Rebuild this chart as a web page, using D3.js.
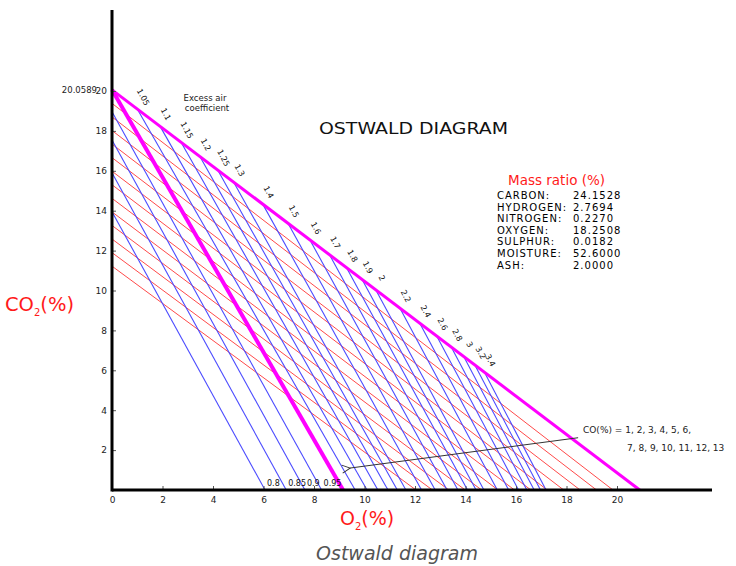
<!DOCTYPE html>
<html>
<head>
<meta charset="utf-8">
<script src="https://cdn.jsdelivr.net/npm/d3@7"></script>
<style>
  body { margin: 0; background: #fff; }
  text { font-family: "DejaVu Sans", Verdana, sans-serif; }
</style>
</head>
<body>
<div id="chart"></div>
<script>
// values
const xTicks = [0, 2, 4, 6, 8, 10, 12, 14, 16, 18, 20];
const yTicks = [2, 4, 6, 8, 10, 12, 14, 16, 18, 20];
const co2Max = 20.0589;

// complete combustion line and lambda = 1 line
const boundaryO2 = [0, 20.9];
const boundaryCO2 = [co2Max, 0];
const stoichO2 = [0, 9.15];
const stoichCO2 = [co2Max, 0];

// excess air coefficient lines below 1 (from CO2 axis to O2 axis)
const lambdaLow = ["0.8", "0.85", "0.9", "0.95"];
const lowStartCO2 = [13.95, 15.9, 17.54, 18.96];
const lowEndO2 = [6.06, 6.9, 7.64, 8.3];

// excess air coefficient lines above 1 (from boundary line to O2 axis)
const lambdaHigh = ["1.05", "1.1", "1.15", "1.2", "1.25", "1.3", "1.4", "1.5", "1.6", "1.7",
  "1.8", "1.9", "2", "2.2", "2.4", "2.6", "2.8", "3", "3.2", "3.4"];
const highStartO2 = [1.00, 1.90, 2.73, 3.48, 4.18, 4.82, 5.97, 6.97, 7.84, 8.61,
  9.29, 9.90, 10.45, 11.40, 12.19, 12.86, 13.44, 13.93, 14.37, 14.75];
const highStartCO2 = [19.10, 18.24, 17.44, 16.72, 16.05, 15.43, 14.33, 13.37, 12.53, 11.80,
  11.14, 10.56, 10.03, 9.12, 8.36, 7.72, 7.16, 6.69, 6.27, 5.90];
const highEndO2 = [9.63, 10.10, 10.53, 10.93, 11.30, 11.64, 12.26, 12.80, 13.27, 13.70,
  14.08, 14.42, 14.73, 15.26, 15.71, 16.10, 16.43, 16.72, 16.97, 17.19];

// CO lines, CO(%) = 1..13
const coLevels = [1, 2, 3, 4, 5, 6, 7, 8, 9, 10, 11, 12, 13];
const coStartCO2 = [19.38, 18.70, 18.02, 17.34, 16.66, 15.98, 15.30, 14.62, 13.94, 13.26, 12.58, 11.90, 11.22];
const coEndO2 = [19.84, 19.19, 18.54, 17.89, 17.24, 16.59, 15.94, 15.29, 14.64, 13.99, 13.34, 12.69, 12.04];

const massNames = ["CARBON:", "HYDROGEN:", "NITROGEN:", "OXYGEN:", "SULPHUR:", "MOISTURE:", "ASH:"];
const massValues = ["24.1528", "2.7694", "0.2270", "18.2508", "0.0182", "52.6000", "2.0000"];

// annotation arrow (O2, CO2)
const arrowFrom = [18.46, 2.62];
const arrowTo = [9.43, 1.10];

const width = 736, height = 566;

const x = d3.scaleLinear().domain([0, 20]).range([112, 617]);
const y = d3.scaleLinear().domain([0, 20]).range([490, 91]);

const svg = d3.select("#chart").append("svg")
  .attr("width", width)
  .attr("height", height);

svg.append("defs").append("marker")
  .attr("id", "arrow")
  .attr("viewBox", "-1 -6 10 12")
  .attr("refX", 0).attr("refY", 0)
  .attr("markerWidth", 10).attr("markerHeight", 12)
  .attr("markerUnits", "userSpaceOnUse")
  .attr("orient", "auto-start-reverse")
  .append("path")
  .attr("d", "M8,-4L0,0L8,4")
  .attr("fill", "none")
  .attr("stroke", "#333")
  .attr("stroke-width", 1);

// red CO lines
svg.append("g")
  .attr("stroke", "#ff4a4a")
  .attr("stroke-width", 1)
  .selectAll("line")
  .data(coLevels)
  .join("line")
  .attr("x1", x(0))
  .attr("y1", (d, i) => y(coStartCO2[i]))
  .attr("x2", (d, i) => x(coEndO2[i]))
  .attr("y2", y(0));

// blue excess air lines
const blue = svg.append("g")
  .attr("stroke", "#4b4bff")
  .attr("stroke-width", 1.1);

blue.selectAll("line.low")
  .data(lambdaLow)
  .join("line")
  .attr("class", "low")
  .attr("x1", x(0))
  .attr("y1", (d, i) => y(lowStartCO2[i]))
  .attr("x2", (d, i) => x(lowEndO2[i]))
  .attr("y2", y(0));

blue.selectAll("line.high")
  .data(lambdaHigh)
  .join("line")
  .attr("class", "high")
  .attr("x1", (d, i) => x(highStartO2[i]))
  .attr("y1", (d, i) => y(highStartCO2[i]))
  .attr("x2", (d, i) => x(highEndO2[i]))
  .attr("y2", y(0));

// magenta lines
const line = d3.line().x(d => x(d[0])).y(d => y(d[1]));
svg.append("path")
  .attr("d", line(boundaryO2.map((o, i) => [o, boundaryCO2[i]])))
  .attr("stroke", "#ff00ff")
  .attr("stroke-width", 3)
  .attr("fill", "none");
svg.append("path")
  .attr("d", line(stoichO2.map((o, i) => [o, stoichCO2[i]])))
  .attr("stroke", "#ff00ff")
  .attr("stroke-width", 4)
  .attr("fill", "none");

// lambda labels
svg.append("g")
  .selectAll("text")
  .data(lambdaHigh)
  .join("text")
  .attr("transform", (d, i) => `translate(${x(highStartO2[i]) + 6},${y(highStartCO2[i]) - 12}) rotate(62)`)
  .attr("text-anchor", "middle")
  .attr("dy", "0.35em")
  .attr("font-size", 8)
  .attr("fill", "#111")
  .text(d => d);

svg.append("g")
  .selectAll("text")
  .data(lambdaLow)
  .join("text")
  .attr("x", (d, i) => x(lowEndO2[i]) + 2)
  .attr("y", y(0) - 4)
  .attr("font-size", 8)
  .attr("fill", "#111")
  .text(d => d);

// axes
const xAxis = g => g
  .attr("transform", `translate(0,${y(0)})`)
  .call(d3.axisBottom(x).tickValues(xTicks).tickSizeInner(-4).tickSizeOuter(0).tickPadding(7))
  .call(g => g.select(".domain").remove())
  .call(g => g.selectAll(".tick line").attr("stroke", "#555"))
  .call(g => g.selectAll(".tick text").attr("font-size", 9).attr("fill", "#222")
    .attr("font-family", "DejaVu Sans"));

const yAxis = g => g
  .attr("transform", `translate(${x(0)},0)`)
  .call(d3.axisLeft(y).tickValues(yTicks).tickSizeInner(-4).tickSizeOuter(0).tickPadding(5))
  .call(g => g.select(".domain").remove())
  .call(g => g.selectAll(".tick line").attr("stroke", "#555"))
  .call(g => g.selectAll(".tick text").attr("font-size", 9).attr("fill", "#222")
    .attr("font-family", "DejaVu Sans"));

svg.append("g").call(xAxis);
svg.append("g").call(yAxis);

svg.append("line")
  .attr("x1", x(0)).attr("x2", 712)
  .attr("y1", y(0)).attr("y2", y(0))
  .attr("stroke", "#000").attr("stroke-width", 3);
svg.append("line")
  .attr("x1", x(0)).attr("x2", x(0))
  .attr("y1", 10).attr("y2", y(0) + 1.5)
  .attr("stroke", "#000").attr("stroke-width", 3);

svg.append("text")
  .attr("x", 97).attr("y", y(co2Max) + 3)
  .attr("text-anchor", "end")
  .attr("font-size", 8.5)
  .attr("fill", "#222")
  .text(co2Max.toFixed(4));

// annotation arrow
svg.append("line")
  .attr("x1", x(arrowFrom[0])).attr("y1", y(arrowFrom[1]))
  .attr("x2", x(arrowTo[0])).attr("y2", y(arrowTo[1]))
  .attr("stroke", "#333")
  .attr("stroke-width", 1)
  .attr("marker-end", "url(#arrow)");

svg.append("text")
  .attr("x", 583).attr("y", 433)
  .attr("font-size", 9)
  .attr("fill", "#222")
  .text("CO(%) = " + coLevels.slice(0, 6).join(", ") + ",");
svg.append("text")
  .attr("x", 627).attr("y", 451)
  .attr("font-size", 9)
  .attr("fill", "#222")
  .text(coLevels.slice(6).join(", "));

// titles and labels
svg.append("text")
  .attr("x", 205).attr("y", 101)
  .attr("text-anchor", "middle")
  .attr("font-size", 8.5)
  .attr("fill", "#222")
  .text("Excess air");
svg.append("text")
  .attr("x", 207).attr("y", 111)
  .attr("text-anchor", "middle")
  .attr("font-size", 8.5)
  .attr("fill", "#222")
  .text("coefficient");

svg.append("text")
  .attr("x", 319).attr("y", 134)
  .attr("font-size", 16)
  .attr("font-family", "Liberation Sans, Arial, sans-serif")
  .attr("textLength", 189)
  .attr("lengthAdjust", "spacingAndGlyphs")
  .attr("fill", "#111")
  .text("OSTWALD DIAGRAM");

svg.append("text")
  .attr("x", 508).attr("y", 185)
  .attr("font-size", 13.5)
  .attr("fill", "#ff1a1a")
  .text("Mass ratio (%)");

const mass = svg.append("g")
  .attr("font-size", 10)
  .attr("fill", "#000")
  .attr("letter-spacing", 1);
mass.selectAll("text.name")
  .data(massNames)
  .join("text")
  .attr("class", "name")
  .attr("x", 497)
  .attr("y", (d, i) => 199 + i * 11.6)
  .text(d => d);
mass.selectAll("text.val")
  .data(massValues)
  .join("text")
  .attr("class", "val")
  .attr("x", 573)
  .attr("y", (d, i) => 199 + i * 11.6)
  .text(d => d);

// axis titles
const co2Label = svg.append("text")
  .attr("x", 5).attr("y", 311)
  .attr("font-size", 19.5)
  .attr("font-family", "Roboto, sans-serif")
  .attr("fill", "#ff1a1a");
co2Label.append("tspan").text("CO");
co2Label.append("tspan").attr("font-size", 10).attr("dy", 5).text("2");
co2Label.append("tspan").attr("dy", -5).text("(%)");

const o2Label = svg.append("text")
  .attr("x", 340).attr("y", 525)
  .attr("font-size", 19)
  .attr("font-family", "Roboto, sans-serif")
  .attr("fill", "#ff1a1a");
o2Label.append("tspan").text("O");
o2Label.append("tspan").attr("font-size", 10).attr("dy", 5).text("2");
o2Label.append("tspan").attr("dy", -5).text("(%)");

svg.append("text")
  .attr("x", 397).attr("y", 560)
  .attr("text-anchor", "middle")
  .attr("font-size", 19)
  .attr("font-style", "italic")
  .attr("font-family", "Roboto, sans-serif")
  .attr("fill", "#555")
  .text("Ostwald diagram");
</script>
</body>
</html>
